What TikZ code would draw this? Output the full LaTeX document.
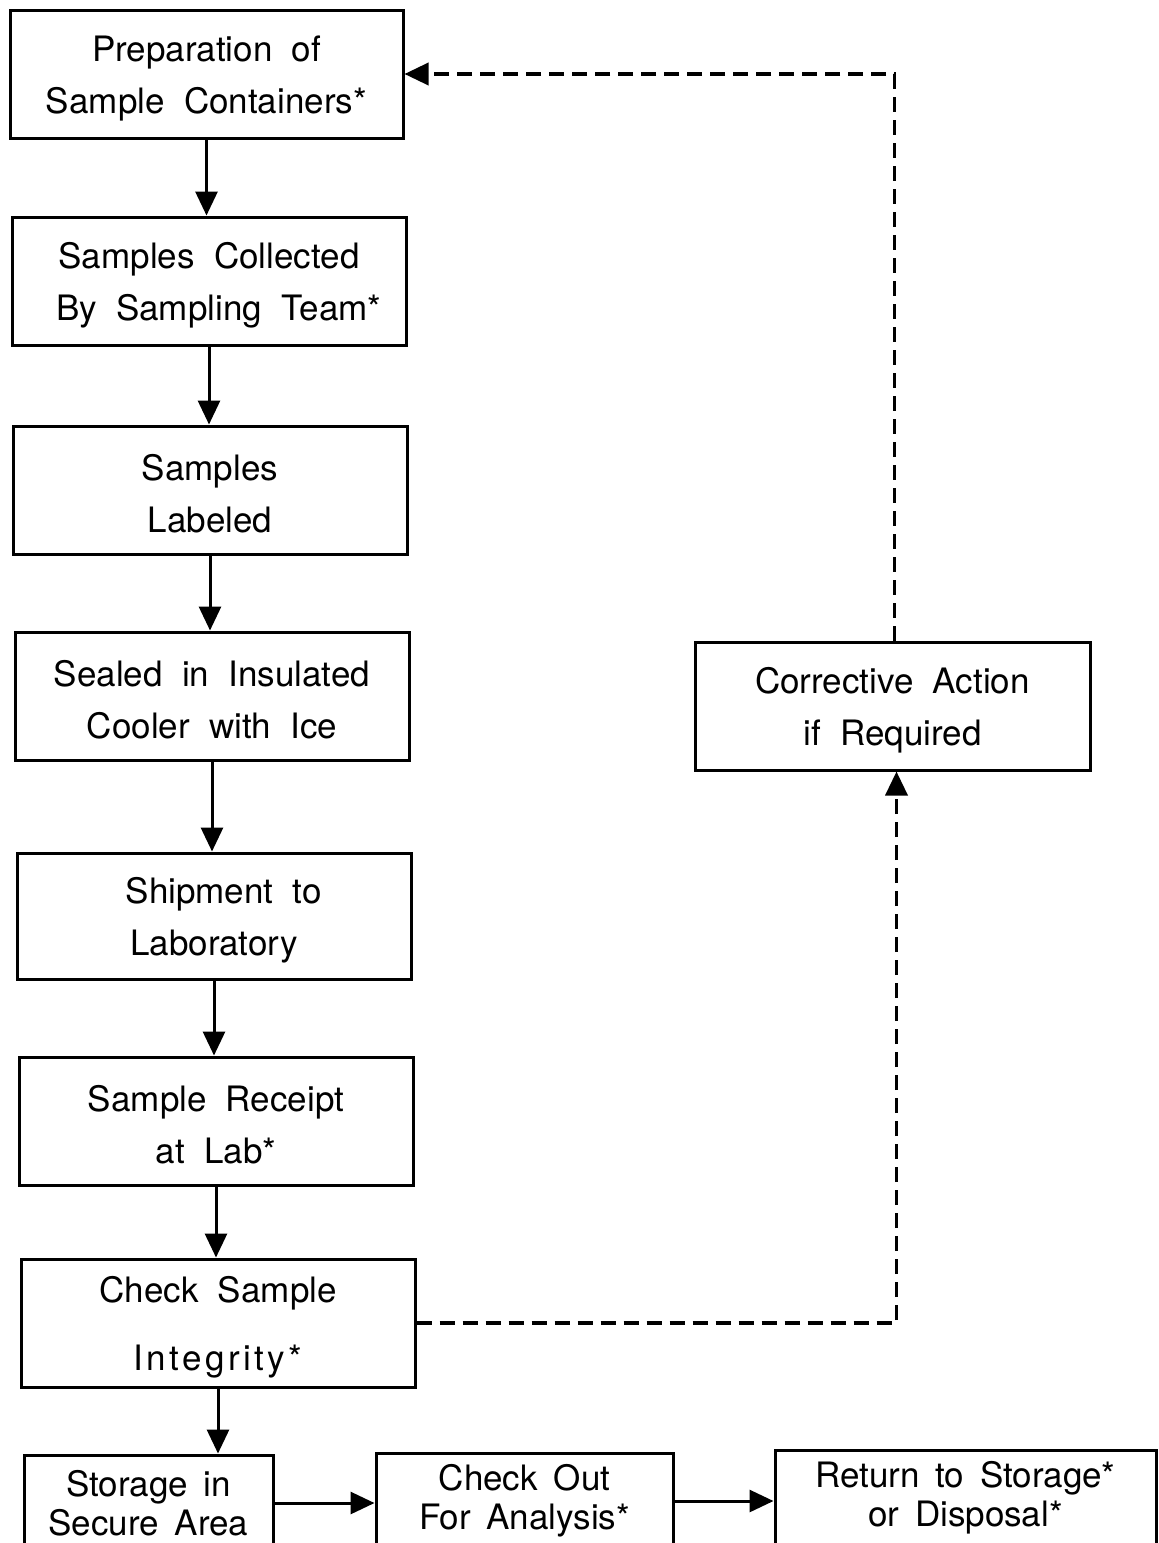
\documentclass[tikz,border=0pt]{standalone}
\usepackage{fontspec}
\setmainfont{TeX Gyre Heros}
\usetikzlibrary{arrows.meta}
\newcommand\widespc{\spaceskip=0.55em\relax}
\newcommand\medspc{\spaceskip=0.45em\relax}
\newcommand\topstrut{\rule{0pt}{17pt}}
\begin{document}
\begin{tikzpicture}[x=0.5pt,y=-0.5pt,
  box/.style={draw,line width=1.5pt,inner sep=0pt,align=center,
    font=\fontsize{17.5}{26}\selectfont\widespc},
  lowbox/.style={box,font=\fontsize{17.5}{19.5}\selectfont\medspc},
  flow/.style={line width=1.5pt,-{Triangle[length=12pt,width=11pt]}},
  back/.style={line width=1.8pt,dash pattern=on 7.5pt off 4pt,-{Triangle[length=12pt,width=11pt]}}]
\useasboundingbox[fill=white] (0,0) rectangle (1158,1543);
\node[box,minimum width=196.5pt,minimum height=64pt] (p1) at (206.5,74) {\topstrut Preparation of\\Sample Containers*};
\node[box,minimum width=197pt,minimum height=64pt] (p2) at (209,281) {\topstrut Samples Collected\\\ By Sampling Team*};
\node[box,minimum width=197pt,minimum height=64pt] (p3) at (210,490) {\topstrut Samples\\Labeled};
\node[box,minimum width=197pt,minimum height=64pt] (p4) at (212,696) {\topstrut Sealed in Insulated\\Cooler with Ice};
\node[box,minimum width=197pt,minimum height=63pt] (p5) at (214,916) {\topstrut\ Shipment to\\Laboratory};
\node[box,minimum width=197pt,minimum height=64pt] (p6) at (216,1121) {\topstrut Sample Receipt\\at Lab*};
\node[box,minimum width=197pt,minimum height=64pt] (p7) at (218,1323) {\topstrut Check Sample\\\rule{0pt}{29pt}{\addfontfeature{LetterSpace=10}Integrity*}};
\node[box,minimum width=197.5pt,minimum height=64pt] (ca) at (892.5,706) {\topstrut Corrective Action\\if Required};
\node[lowbox,minimum width=124.5pt,minimum height=48pt] (s) at (148.5,1503) {Storage in\\Secure Area};
\node[lowbox,minimum width=148.5pt,minimum height=48pt] (c) at (524.5,1501) {Check Out\\For Analysis*};
\node[lowbox,minimum width=190.5pt,minimum height=48pt] (r) at (965.5,1498) {Return to Storage*\\or Disposal*};
\draw[flow] (p1.south) -- (p1.south |- p2.north);
\draw[flow] (p2.south) -- (p2.south |- p3.north);
\draw[flow] (p3.south) -- (p3.south |- p4.north);
\draw[flow] (p4.south) -- (p4.south |- p5.north);
\draw[flow] (p5.south) -- (p5.south |- p6.north);
\draw[flow] (p6.south) -- (p6.south |- p7.north);
\draw[flow] (p7.south) -- (p7.south |- s.north);
\draw[flow] (s.east) -- (s.east -| c.west);
\draw[flow] (c.east) -- (c.east -| r.west);
\draw[back] (p7.east) -| ([xshift=2pt]ca.south);
\draw[back] ([xshift=1pt]ca.north) |- (p1.east);
\end{tikzpicture}
\end{document}
